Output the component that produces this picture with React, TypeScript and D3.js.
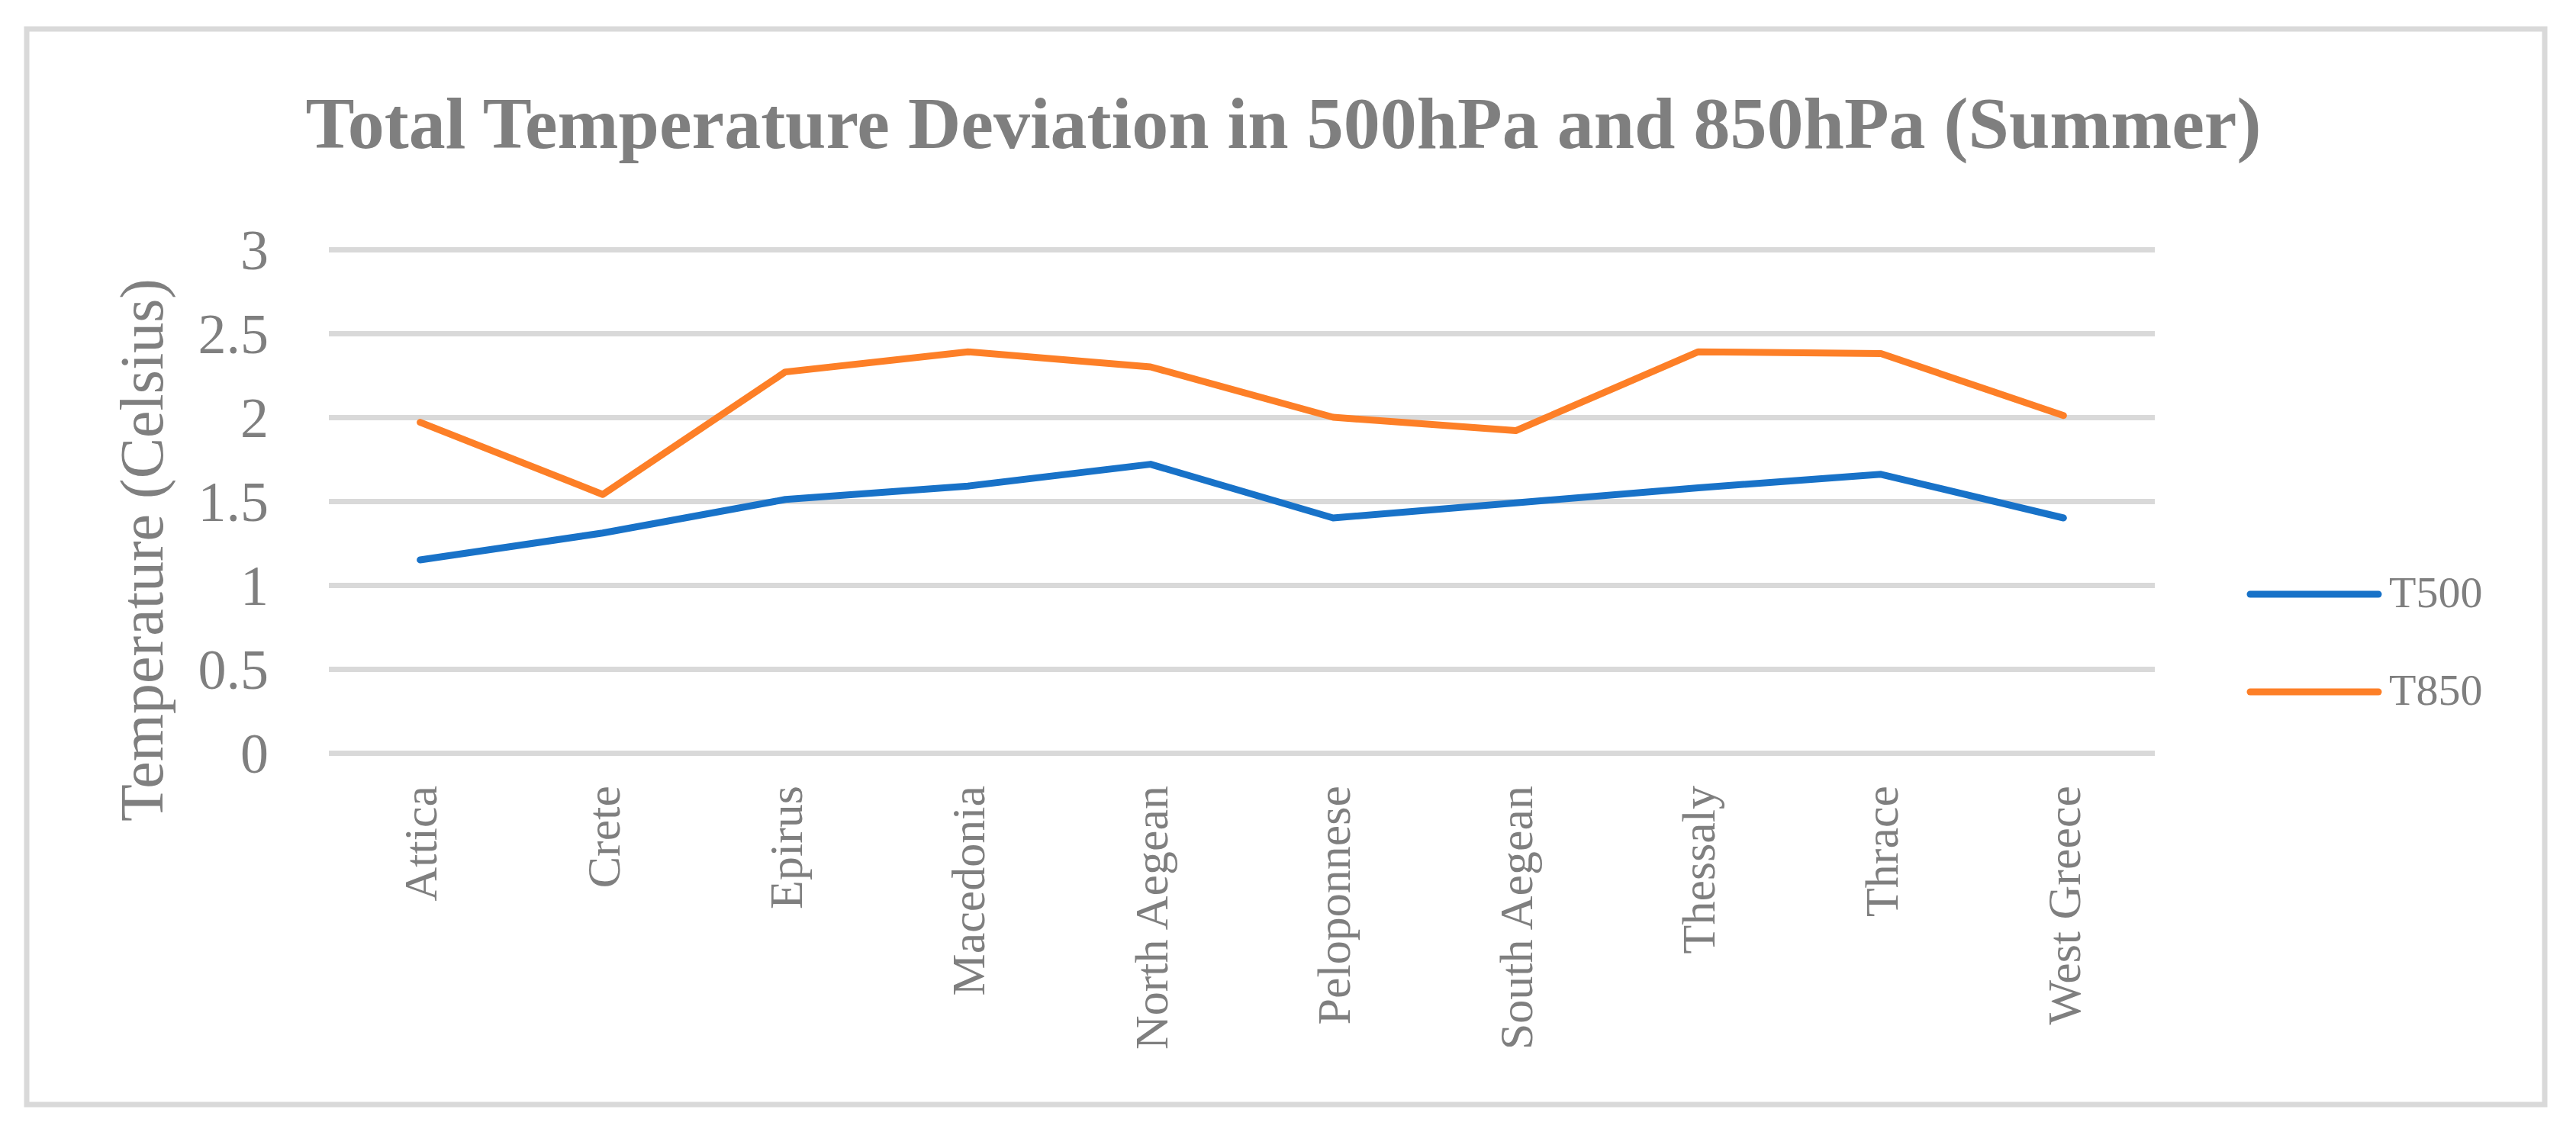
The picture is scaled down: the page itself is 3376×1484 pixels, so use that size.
import { useEffect, useRef } from "react";
import * as d3 from "d3";

const regions = [
  "Attica",
  "Crete",
  "Epirus",
  "Macedonia",
  "North Aegean",
  "Peloponnese",
  "South Aegean",
  "Thessaly",
  "Thrace",
  "West Greece",
];
const t500 = [1.15, 1.31, 1.51, 1.59, 1.72, 1.4, 1.49, 1.58, 1.66, 1.4];
const t850 = [1.97, 1.54, 2.27, 2.39, 2.3, 2.0, 1.92, 2.39, 2.38, 2.01];
const yTicks = [0, 0.5, 1, 1.5, 2, 2.5, 3];
const seriesNames = ["T500", "T850"];

export default function App() {
  const width = 3376;
  const height = 1484;
  const marginTop = 327;
  const marginLeft = 431;
  const plotRight = 2824;
  const plotBottom = 987;
  const ref = useRef(null);

  useEffect(() => {
    ref.current.innerHTML = "";
    const svg = d3.select(ref.current);
    const gray = "#7f7f7f";
    const font = "'Liberation Serif', 'Times New Roman', serif";
    const colors = ["#1872c8", "#fd7f27"];

    // outer frame
    svg
      .append("rect")
      .attr("x", 35)
      .attr("y", 38)
      .attr("width", 3300)
      .attr("height", 1410)
      .attr("fill", "white")
      .attr("stroke", "#d9d9d9")
      .attr("stroke-width", 7);

    const xScale = d3
      .scaleBand()
      .domain(regions)
      .range([marginLeft, plotRight]);

    const yScale = d3
      .scaleLinear()
      .domain([0, 3])
      .range([plotBottom, marginTop]);

    // title
    svg
      .append("text")
      .attr("x", 1682)
      .attr("y", 194)
      .attr("text-anchor", "middle")
      .attr("font-family", font)
      .attr("font-weight", "bold")
      .attr("font-size", 96)
      .attr("fill", gray)
      .text("Total Temperature Deviation in 500hPa and 850hPa (Summer)");

    // y grid + labels
    svg
      .append("g")
      .attr("transform", `translate(${plotRight}, 0)`)
      .call(
        d3
          .axisLeft(yScale)
          .tickValues(yTicks)
          .tickSize(plotRight - marginLeft)
          .tickFormat(d3.format("")),
      )
      .call((g) => g.select(".domain").remove())
      .call((g) =>
        g.selectAll(".tick line").attr("stroke", "#d9d9d9").attr("stroke-width", 7),
      )
      .call((g) =>
        g
          .selectAll(".tick text")
          .attr("x", -(plotRight - marginLeft) - 79)
          .attr("dy", "0.35em")
          .attr("fill", gray)
          .attr("font-family", font)
          .attr("font-size", 74),
      );

    // x labels
    svg
      .append("g")
      .attr("transform", `translate(0, ${plotBottom})`)
      .call(d3.axisBottom(xScale).tickSize(0))
      .call((g) => g.select(".domain").remove())
      .call((g) =>
        g
          .selectAll(".tick text")
          .attr("transform", "rotate(-90)")
          .attr("x", -43)
          .attr("y", 0)
          .attr("dy", "0.35em")
          .attr("text-anchor", "end")
          .attr("fill", gray)
          .attr("font-family", font)
          .attr("font-size", 62),
      );

    // y axis title
    svg
      .append("text")
      .attr("transform", "translate(213, 721) rotate(-90)")
      .attr("text-anchor", "middle")
      .attr("font-family", font)
      .attr("font-size", 80)
      .attr("fill", gray)
      .text("Temperature (Celsius)");

    const line = d3
      .line()
      .x((d, i) => xScale(regions[i]) + xScale.bandwidth() / 2)
      .y((d) => yScale(d));

    [t500, t850].forEach((values, k) => {
      svg
        .append("path")
        .datum(values)
        .attr("d", line)
        .attr("fill", "none")
        .attr("stroke", colors[k])
        .attr("stroke-width", 9)
        .attr("stroke-linejoin", "round")
        .attr("stroke-linecap", "round");
    });

    // legend
    const legend = svg
      .selectAll(".legend")
      .data(seriesNames)
      .enter()
      .append("g")
      .attr("transform", (d, i) => `translate(0, ${779 + i * 128})`);

    legend
      .append("line")
      .attr("x1", 2949)
      .attr("x2", 3117)
      .attr("stroke", (d, i) => colors[i])
      .attr("stroke-width", 9)
      .attr("stroke-linecap", "round");

    legend
      .append("text")
      .attr("x", 3131)
      .attr("y", 17)
      .attr("font-family", font)
      .attr("font-size", 58)
      .attr("fill", gray)
      .text((d) => d);
  }, []);

  return (
    <svg
      ref={ref}
      width={width}
      height={height}
      style={{ position: "absolute", left: 0, top: 0, background: "white" }}
    />
  );
}
